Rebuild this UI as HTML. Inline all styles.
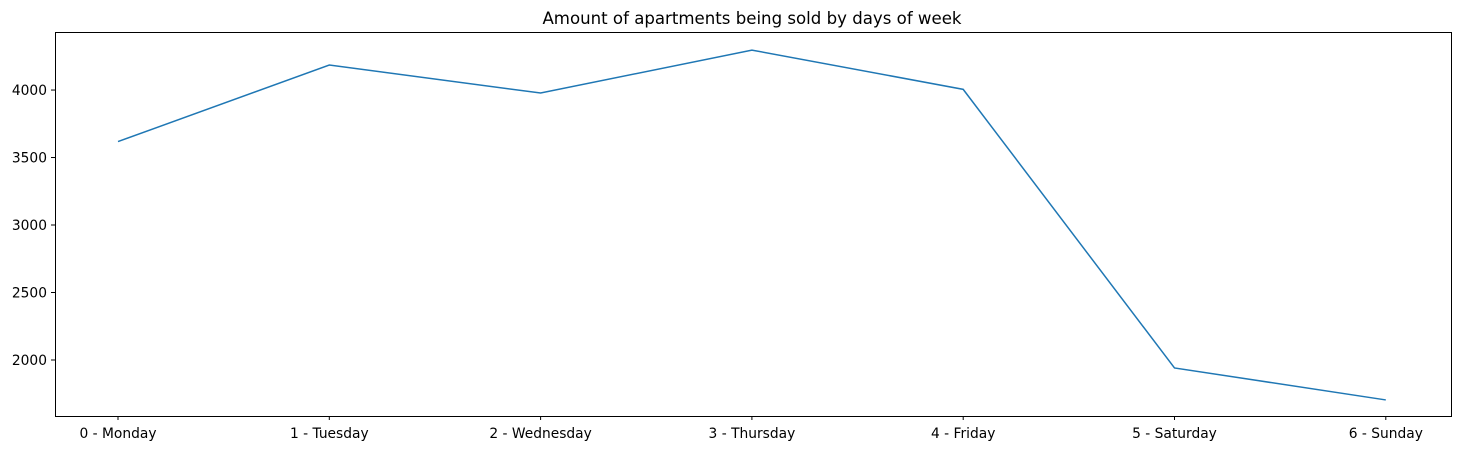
<!DOCTYPE html>
<html><head><meta charset="utf-8"><style>
body{margin:0;background:#fff;font-family:"Liberation Sans","DejaVu Sans",sans-serif;}
svg text{font-family:"DejaVu Sans","Liberation Sans",sans-serif;}
</style></head><body>
<svg id="chart" width="1459" height="451" xmlns="http://www.w3.org/2000/svg">
<text x="752" y="24" font-size="16.6" text-anchor="middle">Amount of apartments being sold by days of week</text>
<rect x="55.5" y="32.5" width="1396" height="384" fill="none" stroke="#000" stroke-width="1"/>
<g id="xt"></g><g id="yt"></g>
<path id="line" fill="none" stroke="#1f77b4" stroke-width="1.5"/>
</svg>
<script>
const categories=["0 - Monday","1 - Tuesday","2 - Wednesday","3 - Thursday","4 - Friday","5 - Saturday","6 - Sunday"];
const sales=[3618,4185,3978,4296,4005,1941,1704];
const yTicks=[2000,2500,3000,3500,4000];
const x0=118,dx=211.3,yTop=32,yBot=416,vMin=1585,vMax=4430;
function X(i){return x0+i*dx;}
function Y(v){return yBot-(v-vMin)/(vMax-vMin)*(yBot-yTop);}
const ns="http://www.w3.org/2000/svg";
const xt=document.getElementById('xt'),yt=document.getElementById('yt');
categories.forEach((c,i)=>{
 const l=document.createElementNS(ns,'line');
 l.setAttribute('x1',X(i));l.setAttribute('x2',X(i));l.setAttribute('y1',416);l.setAttribute('y2',420);l.setAttribute('stroke','#000');
 
 
 xt.appendChild(l);
 const t=document.createElementNS(ns,'text');
 t.setAttribute('x',X(i));t.setAttribute('y',438);t.setAttribute('font-size','13.8');t.setAttribute('text-anchor','middle');t.textContent=c;
 
 
 xt.appendChild(t);
});
yTicks.forEach(v=>{
 const l=document.createElementNS(ns,'line');
 l.setAttribute('x1',51);l.setAttribute('x2',55);l.setAttribute('y1',Y(v));l.setAttribute('y2',Y(v));l.setAttribute('stroke','#000');
 
 
 yt.appendChild(l);
 const t=document.createElementNS(ns,'text');
 t.setAttribute('x',47);t.setAttribute('y',Y(v)+5);t.setAttribute('font-size','13.8');t.setAttribute('text-anchor','end');t.textContent=v;
 
 
 yt.appendChild(t);
});
document.getElementById('line').setAttribute('d',sales.map((v,i)=>(i?'L':'M')+X(i)+','+Y(v)).join(' '));
</script>
</body></html>
